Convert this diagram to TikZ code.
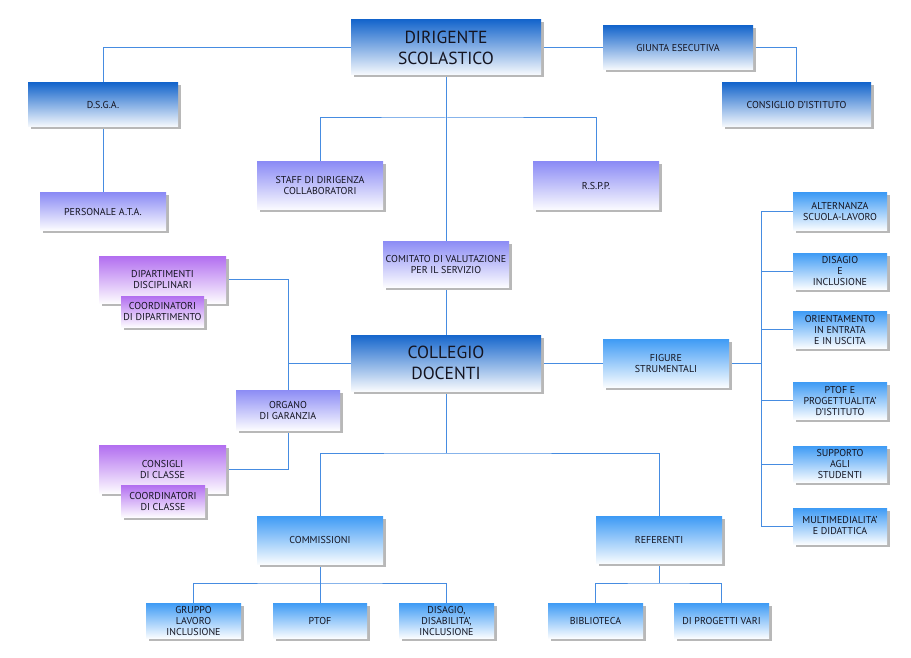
\documentclass[tikz,border=0pt]{standalone}
\usepackage{fontspec}
\setmainfont{PT Sans}
\usetikzlibrary{shadows,backgrounds}
\definecolor{dkb}{RGB}{22,102,204}
\definecolor{ltb}{RGB}{62,155,245}
\definecolor{lav}{RGB}{140,140,245}
\definecolor{pur}{RGB}{178,110,240}
\definecolor{lnc}{RGB}{70,140,225}
\definecolor{txt}{RGB}{20,20,32}
\tikzset{
  box/.style={rectangle, align=center, inner sep=0pt, text=txt,
    font=\fontsize{10}{11}\selectfont,
    drop shadow={shadow xshift=2.5pt, shadow yshift=-2.5pt, fill=black!28, opacity=1}},
  big/.style={font=\fontsize{17.5}{21}\selectfont},
  dk/.style={top color=dkb, middle color=dkb!50, bottom color=dkb!3},
  lt/.style={top color=ltb, middle color=ltb!50, bottom color=ltb!3},
  lv/.style={top color=lav, middle color=lav!50, bottom color=lav!3},
  pu/.style={top color=pur, middle color=pur!50, bottom color=pur!3},
  conn/.style={draw=lnc, line width=1pt}
}
\begin{document}
\begin{tikzpicture}[x=1pt,y=-1pt]
\useasboundingbox (0,0) rectangle (911,658);
% nodes
\node[box,big,dk,minimum width=190,minimum height=55] (dir) at (446,47.5) {DIRIGENTE\\SCOLASTICO};
\node[box,dk,minimum width=150,minimum height=44] (giunta) at (678,48) {GIUNTA ESECUTIVA};
\node[box,dk,minimum width=149,minimum height=44] (consiglio) at (796.5,105) {CONSIGLIO D'ISTITUTO};
\node[box,dk,minimum width=150,minimum height=44] (dsga) at (103,105) {D.S.G.A.};
\node[box,lv,minimum width=126,minimum height=37] (ata) at (103,211.5) {PERSONALE A.T.A.};
\node[box,lv,minimum width=126,minimum height=48] (staff) at (320,186) {STAFF DI DIRIGENZA\\COLLABORATORI};
\node[box,lv,minimum width=126,minimum height=48] (rspp) at (596,186) {R.S.P.P.};
\node[box,lv,minimum width=126,minimum height=46] (comitato) at (446,264) {COMITATO DI VALUTAZIONE\\PER IL SERVIZIO};
\node[box,big,dk,minimum width=190,minimum height=56] (collegio) at (446,363) {COLLEGIO\\DOCENTI};
\node[box,pu,minimum width=127,minimum height=47] (dip) at (162.5,279.5) {DIPARTIMENTI\\DISCIPLINARI};
\node[box,pu,minimum width=83,minimum height=31] (coorddip) at (162.5,311.5) {COORDINATORI\\DI DIPARTIMENTO};
\node[box,lv,minimum width=104,minimum height=40] (organo) at (288,410) {ORGANO\\DI GARANZIA};
\node[box,pu,minimum width=127,minimum height=48] (consigli) at (162.5,469) {CONSIGLI\\DI CLASSE};
\node[box,pu,minimum width=84,minimum height=32] (coordcl) at (163,501) {COORDINATORI\\DI CLASSE};
\node[box,lt,minimum width=126,minimum height=48] (figure) at (666,363) {FIGURE\\STRUMENTALI};
\node[box,lt,minimum width=94,minimum height=37] (alt) at (840,211.5) {ALTERNANZA\\SCUOLA-LAVORO};
\node[box,lt,minimum width=94,minimum height=36] (dis) at (840,271) {DISAGIO\\E\\INCLUSIONE};
\node[box,lt,minimum width=94,minimum height=37] (ori) at (840,329.5) {ORIENTAMENTO\\IN ENTRATA\\E IN USCITA};
\node[box,lt,minimum width=94,minimum height=37] (ptofp) at (840,400.5) {PTOF E\\PROGETTUALITA'\\D'ISTITUTO};
\node[box,lt,minimum width=94,minimum height=36] (sup) at (840,464) {SUPPORTO\\AGLI\\STUDENTI};
\node[box,lt,minimum width=94,minimum height=36] (mul) at (840,526) {MULTIMEDIALITA'\\E DIDATTICA};
\node[box,lt,minimum width=126,minimum height=48] (comm) at (320,540) {COMMISSIONI};
\node[box,lt,minimum width=126,minimum height=47] (ref) at (659,540) {REFERENTI};
\node[box,lt,minimum width=95,minimum height=35] (gruppo) at (193.5,620.5) {GRUPPO\\LAVORO\\INCLUSIONE};
\node[box,lt,minimum width=94,minimum height=35] (ptof) at (320,620.5) {PTOF};
\node[box,lt,minimum width=95,minimum height=35] (disab) at (446.5,620.5) {DISAGIO,\\DISABILITA',\\INCLUSIONE};
\node[box,lt,minimum width=95,minimum height=35] (bibl) at (595.5,620.5) {BIBLIOTECA};
\node[box,lt,minimum width=95,minimum height=35] (prog) at (721.5,620.5) {DI PROGETTI VARI};
% junctions
\coordinate (jstaff) at (446,118);
\coordinate (jcol) at (446,453);
\coordinate (jfig) at (761,363);
\coordinate (jcomm) at (320,583);
\coordinate (jref) at (659,583);
\begin{scope}[on background layer]
\draw[conn] (dir.west) -| (dsga.north);
\draw[conn] (giunta.west) -- (giunta.west -| dir.east);
\draw[conn] (giunta.east) -| (consiglio.north);
\draw[conn] (dsga.south) -- (ata.north);
\draw[conn] (dir.south) -- (comitato.north);
\draw[conn] (comitato.south) -- (collegio.north);
\draw[conn] (staff.north) |- (jstaff) -| (rspp.north);
\draw[conn] (dip.east) -| (organo.north);
\draw[conn] (consigli.east) -| (organo.south);
\draw[conn] (collegio.west) -- (collegio.west -| organo.north);
\draw[conn] (collegio.south) -- (jcol);
\draw[conn] (comm.north) |- (jcol) -| (ref.north);
\draw[conn] (collegio.east) -- (figure.west);
\draw[conn] (figure.east) -- (jfig);
\foreach \n in {alt,dis,ori,ptofp,sup,mul} \draw[conn] (\n.west) -| (jfig);
\draw[conn] (comm.south) -- (ptof.north);
\draw[conn] (gruppo.north) |- (jcomm) -| (disab.north);
\draw[conn] (ref.south) -- (jref);
\draw[conn] (bibl.north) |- (jref) -| (prog.north);
\end{scope}
\end{tikzpicture}
\end{document}
